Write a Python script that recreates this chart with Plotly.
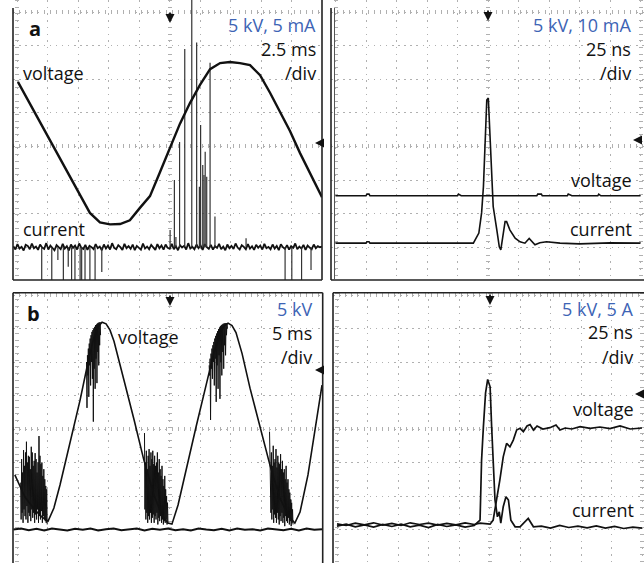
import plotly.graph_objects as go

W, H = 644, 563
FONT = "Open Sans"
BLUE = "#3d64b5"
INK = "#111111"
GRID = "#b0b0b0"

# ------------------------------------------------------------------
# Data read from the four oscilloscope screens, in screen divisions
# (x: 0..10 divisions left->right, y: 0..8 divisions bottom->top)
# ------------------------------------------------------------------

# (a) left screen: 5 kV, 5 mA, 2.5 ms/div
al_volt_x = [0.03, 0.43, 0.75, 1.08, 1.41, 1.74, 2.07, 2.39, 2.72, 3.05, 3.38, 3.70,
             4.03, 4.36, 4.69, 5.02, 5.34, 5.67, 6.00, 6.33, 6.66, 6.98, 7.31, 7.64,
             7.97, 8.30, 8.62, 8.95, 9.28, 9.61, 10.0]
al_volt_y = [5.92, 5.26, 4.73, 4.19, 3.65, 3.12, 2.58, 2.02, 1.74, 1.68, 1.69, 1.80,
             2.17, 2.52, 3.24, 3.98, 4.67, 5.29, 5.83, 6.30, 6.48, 6.51, 6.48, 6.42,
             6.12, 5.59, 5.04, 4.46, 3.80, 3.18, 2.49]
al_cur_base = 1.0
al_cur_noise = [
    1.03, 0.93, 1.09, 0.96, 1.01, 0.90, 1.07, 1.04, 0.94, 1.11, 0.97, 1.02, 0.92, 1.08, 0.99,
    0.95, 1.12, 0.93, 1.05, 0.97, 0.91, 1.06, 1.01, 0.94, 1.10, 0.96, 1.03, 0.90, 1.08, 0.98,
    1.05, 0.93, 1.11, 0.99, 0.95, 1.07, 0.92, 1.04, 1.00, 0.94, 1.09, 0.97, 1.02, 0.91, 1.08,
    0.96, 1.05, 0.93, 1.12, 0.98, 0.94, 1.06, 1.00, 0.92, 1.10, 0.97, 1.03, 0.95, 1.08, 0.91,
    1.04, 0.99, 0.93, 1.11, 0.96, 1.02, 0.94, 1.07, 1.00, 0.92, 1.09, 0.97, 1.05, 0.93, 1.08,
    0.98, 0.95, 1.10, 0.94, 1.03, 0.91, 1.06, 0.99, 1.04, 0.93, 1.12, 0.96, 1.01, 0.94, 1.08,
    0.97, 1.05, 0.92, 1.09, 1.00, 0.95, 1.07, 0.93, 1.03, 0.98, 1.10, 0.94, 1.02, 0.91, 1.08,
    0.97, 1.04, 0.95, 1.11, 0.99, 0.93, 1.06, 1.01, 0.94, 1.09, 0.96, 1.03, 0.92, 1.07, 0.98,
    1.05, 0.93, 1.10, 0.97, 1.01, 0.94, 1.08, 0.96, 1.04, 0.91, 1.09, 1.00, 0.95, 1.06, 0.93,
    1.03, 0.98, 1.11, 0.94, 1.02, 0.96, 1.07, 0.92, 1.05, 0.99, 0.94, 1.08, 0.97, 1.03, 1.00,
    1.02]
al_up_x = [5.02, 5.16, 5.21, 5.33, 5.50, 5.73, 5.89, 5.98, 6.02, 6.09, 6.13, 6.17,
           6.22, 6.33, 6.49, 7.51]
al_up_top = [1.51, 3.00, 1.30, 4.13, 6.90, 8.40, 7.09, 2.80, 4.64, 3.45, 3.15, 3.84,
             3.10, 6.49, 1.91, 1.27]
al_dn_x = [0.81, 1.14, 1.34, 1.52, 1.68, 1.79, 1.90, 2.07, 2.12, 2.23, 2.39, 2.56,
           2.78, 8.79, 9.01, 9.33, 9.64]
al_dn_bot = [-0.1, -0.1, 0.62, -0.1, 0.42, -0.1, -0.1, -0.1, -0.1, -0.1, -0.1, -0.1,
             0.26, -0.1, -0.1, -0.1, 0.32]

# (a) right screen: 5 kV, 10 mA, 25 ns/div
ar_volt_x = [0.0, 1.0, 1.03, 1.1, 1.13, 4.0, 4.03, 4.12, 6.6, 6.63, 6.75, 6.78, 7.6,
             7.63, 7.75, 8.6, 8.63, 8.7, 10.0]
ar_volt_y = [2.53, 2.53, 2.58, 2.58, 2.53, 2.53, 2.58, 2.53, 2.53, 2.58, 2.58, 2.53,
             2.53, 2.58, 2.53, 2.53, 2.58, 2.53, 2.53]
ar_cur_x = [0.0, 1.0, 1.03, 1.1, 1.13, 3.0, 4.52, 4.70, 4.79, 4.85, 4.90, 4.96, 5.01,
            5.07, 5.12, 5.17, 5.29, 5.37, 5.42, 5.48, 5.56, 5.61, 5.72, 5.89, 6.05,
            6.21, 6.35, 6.54, 6.70, 6.92, 7.36, 8.0, 9.0, 10.0]
ar_cur_y = [1.12, 1.12, 1.16, 1.16, 1.12, 1.12, 1.12, 1.42, 2.02, 2.80, 3.99, 5.38,
            5.44, 4.29, 3.00, 2.21, 1.51, 1.01, 0.92, 1.31, 1.76, 1.76, 1.51, 1.27,
            1.16, 1.12, 1.26, 1.07, 1.13, 1.16, 1.12, 1.10, 1.13, 1.12]

# (b) left screen: 5 kV, 5 ms/div
bl_volt_x = [-0.07, 0.26, 0.59, 0.82, 1.02, 1.21, 1.41, 1.74, 2.07, 2.33, 2.52, 2.66,
             2.79, 2.92, 3.05, 3.18, 3.35, 3.51, 3.84, 4.16, 4.49, 4.75, 4.95, 5.08,
             5.28, 5.54, 5.87, 6.20, 6.46, 6.66, 6.79, 6.92, 7.05, 7.18, 7.38, 7.64,
             7.97, 8.30, 8.62, 8.89, 9.11, 9.28, 9.54, 9.77, 10.0]
bl_volt_y = [2.63, 1.97, 1.58, 1.37, 1.25, 1.64, 2.33, 3.61, 4.87, 6.00, 6.72, 7.05,
             7.19, 7.14, 6.95, 6.62, 6.05, 5.45, 4.27, 3.07, 2.03, 1.43, 1.19, 1.16,
             1.73, 2.78, 4.06, 5.31, 6.30, 6.87, 7.08, 7.16, 7.09, 6.88, 6.25, 5.22,
             4.03, 2.90, 1.94, 1.43, 1.19, 1.52, 2.63, 3.97, 5.31]
bl_cur_noise = [1.00, 1.03, 0.98, 1.02, 0.97, 1.03, 1.00, 0.97, 1.02, 0.99, 1.03, 0.97,
                1.01, 1.03, 0.98, 1.00, 1.03, 0.97, 1.02, 0.99, 1.03, 0.98, 1.01, 0.97,
                1.03, 1.00, 0.98, 1.02, 0.97, 1.03, 0.99, 1.01, 0.97, 1.03, 1.00, 0.98,
                1.02, 0.97, 1.03, 0.99, 1.01]
# discharge bursts: alternating spike tips (hi) and feet (lo)
bl_burst_span = [(0.12, 0.99), (4.18, 4.95), (8.28, 9.05), (2.28, 2.74), (6.30, 6.90)]
bl_burst_hi = [
    [2.40, 3.10, 2.70, 3.37, 2.90, 3.30, 3.62, 3.00, 3.20, 3.17, 2.80, 3.47, 3.30, 2.90,
     3.05, 3.28, 3.10, 2.70, 3.00, 3.79, 3.20, 2.95, 3.00, 2.60, 2.80, 2.50, 2.30, 2.20],
    [3.88, 3.00, 3.35, 2.80, 3.20, 3.40, 2.90, 3.30, 3.10, 3.35, 2.95, 3.20, 2.90, 3.00,
     3.30, 2.70, 3.10, 2.80, 2.60, 2.90, 2.50, 2.30, 2.60, 2.20, 2.00, 1.80],
    [3.92, 3.10, 3.30, 2.90, 3.50, 3.00, 3.10, 3.40, 2.85, 3.20, 3.00, 2.95, 3.25, 2.80,
     3.05, 2.70, 2.80, 2.50, 2.90, 2.40, 2.50, 2.20, 2.10, 1.90, 1.80, 1.60],
    [6.00, 6.20, 6.40, 6.55, 6.70, 6.80, 6.90, 6.95, 7.00, 7.05, 7.10, 7.12, 7.15, 7.17,
     7.18, 7.19],
    [5.90, 6.10, 6.25, 6.40, 6.50, 6.60, 6.70, 6.78, 6.85, 6.92, 6.98, 7.03, 7.07, 7.10,
     7.12, 7.14, 7.15, 7.16, 7.16, 7.15],
]
bl_burst_lo = [
    [1.30, 1.50, 1.20, 1.60, 1.40, 1.30, 1.70, 1.20, 1.50, 1.40, 1.25, 1.60, 1.35, 1.50,
     1.20, 1.45, 1.30, 1.60, 1.20, 1.40, 1.30, 1.55, 1.20, 1.40, 1.30, 1.25, 1.20, 1.15],
    [1.60, 1.30, 1.50, 1.20, 1.40, 1.30, 1.50, 1.20, 1.35, 1.45, 1.20, 1.40, 1.30, 1.50,
     1.15, 1.35, 1.25, 1.40, 1.20, 1.30, 1.15, 1.25, 1.20, 1.30, 1.15, 1.20],
    [2.40, 1.50, 1.30, 1.60, 1.20, 1.45, 1.35, 1.20, 1.50, 1.30, 1.15, 1.40, 1.25, 1.50,
     1.20, 1.35, 1.10, 1.40, 1.25, 1.20, 1.35, 1.15, 1.25, 1.10, 1.20, 1.15],
    [4.63, 5.60, 4.96, 5.90, 5.30, 6.00, 5.50, 4.22, 5.80, 5.20, 6.10, 5.37, 6.30, 5.90,
     6.50, 6.80],
    [5.60, 4.27, 5.80, 5.50, 6.00, 5.30, 6.10, 4.81, 5.90, 5.20, 6.20, 4.90, 6.00, 5.60,
     6.30, 5.80, 6.50, 6.20, 6.80, 7.00],
]

# (b) right screen: 5 kV, 5 A, 25 ns/div
br_volt_x = [0.0, 0.3, 0.6, 0.9, 1.2, 1.5, 1.8, 2.1, 2.4, 2.7, 3.0, 3.3, 3.6, 3.9, 4.2,
             4.5, 4.69, 5.02, 5.12, 5.24, 5.34, 5.45, 5.56, 5.67, 5.78, 5.89, 6.0,
             6.11, 6.23, 6.33, 6.44, 6.56, 6.75, 6.98, 7.18, 7.31, 7.48, 7.7, 7.97,
             8.3, 8.62, 8.95, 9.28, 9.61, 10.0]
br_volt_y = [1.17, 1.12, 1.19, 1.14, 1.20, 1.13, 1.18, 1.12, 1.20, 1.15, 1.19, 1.13,
             1.18, 1.14, 1.20, 1.15, 1.19, 1.16, 1.28, 1.88, 2.48, 3.17, 3.57, 3.47,
             3.67, 3.97, 4.02, 3.92, 4.09, 4.13, 3.97, 4.09, 4.00, 4.04, 4.12, 3.97,
             4.03, 4.00, 4.07, 4.02, 4.06, 4.01, 4.09, 4.00, 4.03]
br_cur_x = [0.0, 0.3, 0.6, 0.9, 1.2, 1.5, 1.8, 2.1, 2.4, 2.7, 3.0, 3.3, 3.6, 3.9, 4.2,
            4.5, 4.69, 4.74, 4.80, 4.87, 4.94, 5.02, 5.07, 5.12, 5.18, 5.26, 5.32,
            5.37, 5.45, 5.54, 5.62, 5.70, 5.84, 6.0, 6.27, 6.44, 6.7, 7.0, 7.3, 7.6,
            7.9, 8.2, 8.5, 8.8, 9.1, 9.4, 9.7, 10.0]
br_cur_y = [1.10, 1.16, 1.08, 1.14, 1.07, 1.15, 1.09, 1.16, 1.08, 1.13, 1.06, 1.15,
            1.09, 1.14, 1.07, 1.12, 1.28, 3.07, 4.07, 5.07, 5.48, 5.26, 4.07, 3.07,
            1.88, 1.38, 1.53, 1.19, 1.68, 1.98, 1.88, 1.28, 1.08, 1.08, 1.33, 1.08,
            1.10, 1.04, 1.12, 1.06, 1.10, 1.05, 1.11, 1.04, 1.09, 1.03, 1.07, 1.04]

# ------------------------------------------------------------------
# Layout geometry (pixels in the 644x563 picture)
# box = (left, right, top, bottom) of plotting area,
# gx0 / gy0 = pixel of division 0, sx / sy = pixels per division
# ------------------------------------------------------------------
panels = [
    dict(box=(13, 322, 0, 280), gx0=17.0, gy0=280.8, sx=30.5, sy=33.6),
    dict(box=(331, 644, 0, 280), gx0=335.5, gy0=280.8, sx=30.5, sy=33.6),
    dict(box=(13, 322.7, 292.7, 563), gx0=17.0, gy0=563.0, sx=30.5, sy=33.5),
    dict(box=(333, 644, 292.7, 563), gx0=337.0, gy0=563.0, sx=30.5, sy=33.5),
]

fig = go.Figure()


def line(i, x, y, width=1.5, color=INK):
    fig.add_trace(go.Scatter(x=x, y=y, mode="lines", xaxis=f"x{i}", yaxis=f"y{i}",
                             line=dict(color=color, width=width), hoverinfo="skip",
                             showlegend=False))


def spikes(xs, ends, base):
    X, Y = [], []
    for x, e in zip(xs, ends):
        X += [x, x, None]
        Y += [base, e, None]
    return X, Y


def even_x(n, lo, hi):
    return [lo + k * (hi - lo) / (n - 1) for k in range(n)]


# panel 1 (a, left)
line(1, even_x(len(al_cur_noise), -0.12, 10.0), al_cur_noise, 1.8)
sx_, sy_ = spikes(al_up_x, al_up_top, al_cur_base)
line(1, sx_, sy_, 1.2, "#333333")
sx_, sy_ = spikes(al_dn_x, al_dn_bot, al_cur_base)
line(1, sx_, sy_, 1.2, "#333333")
line(1, al_volt_x, al_volt_y, 2.4)

# panel 2 (a, right)
line(2, ar_volt_x, ar_volt_y, 1.6)
line(2, ar_cur_x, ar_cur_y, 1.6)

# panel 3 (b, left)
line(3, even_x(len(bl_cur_noise), -0.12, 10.0), bl_cur_noise, 2.0)
for (lo, hi), his, los in zip(bl_burst_span, bl_burst_hi, bl_burst_lo):
    ys = []
    for a, b in zip(his, los):
        ys += [a, b]
    line(3, even_x(len(ys), lo, hi), ys, 1.0)
line(3, bl_volt_x, bl_volt_y, 1.6)

# panel 4 (b, right)
line(4, br_volt_x, br_volt_y, 1.7)
line(4, br_cur_x, br_cur_y, 1.7)

# overlay subplots carrying the graticule tick marks (edges + centre cross)
for i in range(1, 5):
    fig.add_trace(go.Scatter(x=[None], y=[None], xaxis=f"x{i + 4}", yaxis=f"y{i + 4}",
                             mode="lines", showlegend=False, hoverinfo="skip"))

layout = dict(width=W, height=H, margin=dict(l=0, r=0, t=0, b=0),
              paper_bgcolor="white", plot_bgcolor="white", showlegend=False)
for i, p in enumerate(panels, start=1):
    L, R, T, B = p["box"]
    xr = [(L - p["gx0"]) / p["sx"], (R - p["gx0"]) / p["sx"]]
    yr = [(p["gy0"] - B) / p["sy"], (p["gy0"] - T) / p["sy"]]
    common = dict(showticklabels=False, ticks="", showline=False, zeroline=False,
                  showgrid=True, gridcolor=GRID, fixedrange=True)
    layout[f"xaxis{i}"] = dict(domain=[L / W, R / W], range=xr, anchor=f"y{i}",
                               tickvals=list(range(11)), gridwidth=1,
                               griddash="1.5px,5.2px", **common)
    layout[f"yaxis{i}"] = dict(domain=[1 - B / H, 1 - T / H], range=yr, anchor=f"x{i}",
                               tickvals=list(range(9)), gridwidth=1,
                               griddash="1.5px,4.6px", **common)
    layout[f"xaxis{i + 4}"] = dict(domain=[L / W, R / W], range=xr, anchor=f"y{i + 4}",
                                   overlaying=f"x{i}", tickvals=[0, 5, 10], gridwidth=4,
                                   griddash="1px,5.7px", **common)
    layout[f"yaxis{i + 4}"] = dict(domain=[1 - B / H, 1 - T / H], range=yr,
                                   anchor=f"x{i + 4}", overlaying=f"y{i}",
                                   tickvals=[0, 4, 8], gridwidth=4,
                                   griddash="1px,5.1px", **common)
fig.update_layout(**layout)


def px(x, y):
    return x / W, 1 - y / H


shapes = []
# white mask above the top graticule of the upper screens
for (l, r) in [(13, 322), (331, 644)]:
    x0, y0 = px(l + 1, 0)
    x1, y1 = px(r - 1, 10)
    shapes.append(dict(type="rect", xref="paper", yref="paper", x0=x0, x1=x1,
                       y0=y1, y1=y0, fillcolor="white", line=dict(width=0),
                       layer="between"))


def seg(x0, y0, x1, y1, w=1.6, color="#222222"):
    a, b = px(x0, y0)
    c, d = px(x1, y1)
    shapes.append(dict(type="line", xref="paper", yref="paper", x0=a, y0=b, x1=c,
                       y1=d, line=dict(color=color, width=w), layer="above"))


# frames
seg(13, 8, 13, 280); seg(13, 280, 322, 280); seg(322, 0, 322, 280)
seg(331, 8, 331, 280); seg(331, 280, 644, 280); seg(334.5, 8, 334.5, 280, 1.0, "#555")
seg(13, 292.7, 13, 563); seg(13, 292.7, 322.7, 292.7); seg(322.7, 292.7, 322.7, 563)
seg(333, 292.7, 333, 563); seg(333, 292.7, 644, 292.7)
fig.update_layout(shapes=shapes)

ann = []


def text(x, y, s, anchor="right", color=INK, size=18, bold=False):
    a, b = px(x, y)
    ann.append(dict(x=a, y=b, xref="paper", yref="paper", text=f"<b>{s}</b>" if bold else s,
                    showarrow=False, xanchor=anchor, yanchor="middle",
                    font=dict(family=FONT, size=size, color=color)))


def marker(x, y, dx, dy):
    a, b = px(x, y)
    ann.append(dict(x=a, y=b, xref="paper", yref="paper", text="", showarrow=True,
                    ax=dx, ay=dy, arrowhead=2, arrowsize=1.0, arrowwidth=1.8,
                    arrowcolor="#111", standoff=0, font=dict(size=1), borderpad=0))


text(35, 28, "a", "center", size=20, bold=True)
text(318, 25, "5 kV, 5 mA", color=BLUE)
text(318, 49, "2.5 ms")
text(318, 73, "/div")
text(21, 73, "voltage", "left")
text(21, 229, "current", "left")

text(633, 25, "5 kV, 10 mA", color=BLUE)
text(633, 49, "25 ns")
text(633, 73, "/div")
text(634, 180, "voltage")
text(634, 229, "current")

text(33, 313, "b", "center", size=20, bold=True)
text(314, 309, "5 kV", color=BLUE)
text(314, 333, "5 ms")
text(314, 357, "/div")
text(116, 337, "voltage", "left")

text(635, 309, "5 kV, 5 A", color=BLUE)
text(635, 332, "25 ns")
text(635, 357, "/div")
text(636, 409, "voltage")
text(636, 510, "current")

marker(170, 23, 0, -11)
marker(488, 21, 0, -11)
marker(170, 306, 0, -11)
marker(490, 305, 0, -11)
marker(315, 143, 9, 0)
marker(633, 140, 9, 0)
marker(315, 370, 9, 0)
marker(635, 394, 9, 0)

fig.update_layout(annotations=ann)
fig.write_html("out.html")
